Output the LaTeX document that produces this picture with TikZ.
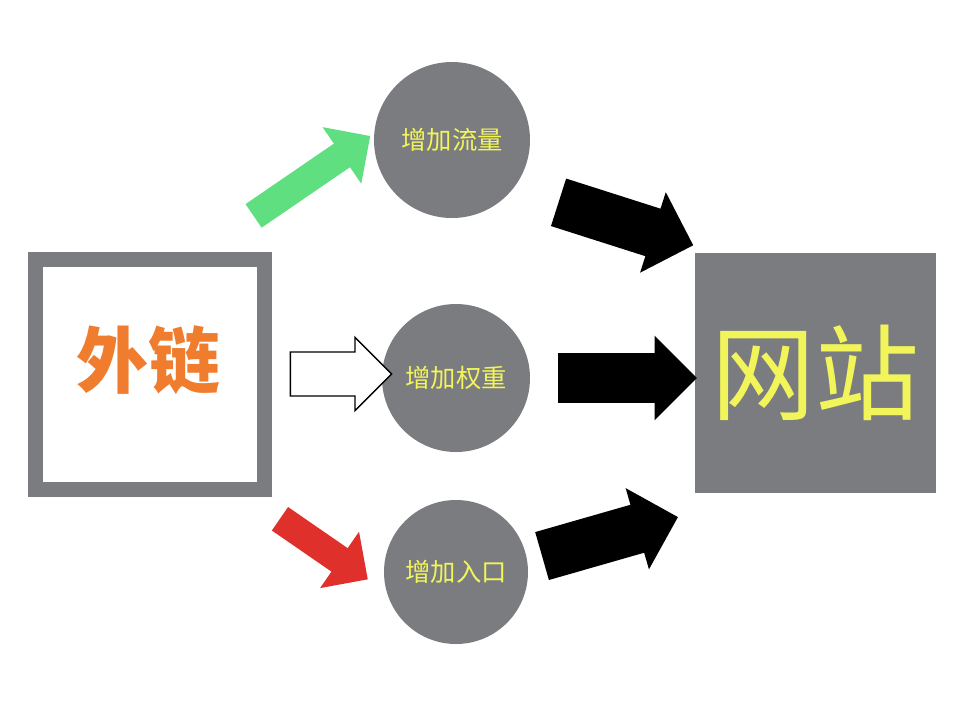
\documentclass[tikz,border=0pt]{standalone}
\usepackage{fontspec}
\newfontfamily\cjk{Noto Sans CJK SC}
\usetikzlibrary{shapes.arrows}
\definecolor{gr}{HTML}{7A7C80}
\definecolor{yl}{HTML}{F2F55A}
\definecolor{og}{HTML}{F07D2E}
\definecolor{gn}{HTML}{5FDF80}
\definecolor{rd}{HTML}{E0302C}
\tikzset{
 circ/.style={circle,fill=gr,minimum size=#1,inner sep=0pt,text=yl,font=\cjk\fontsize{19}{19}\selectfont},
 blk/.style={single arrow,fill=black,inner xsep=0pt,inner ysep=18.5pt,single arrow head extend=13pt},
 thin/.style={single arrow,inner xsep=0pt,inner ysep=10.5pt,single arrow head extend=15pt}
}
\begin{document}
\begin{tikzpicture}[x=0.75pt,y=-0.75pt]
\useasboundingbox (0,0) rectangle (957,704);
\fill[white] (0,0) rectangle (957,704);
\draw[gr,line width=11.5pt] (35.5,259.5) rectangle (264.5,489.5);
\node[font=\cjk\bfseries\fontsize{54}{54}\selectfont,text=og] (wl) at (148,360) {外链};
\node[fill=gr,minimum width=181pt,minimum height=180pt,inner sep=0pt,text=yl,font=\cjk\fontsize{78}{78}\selectfont] (wz) at (815.5,373) {网站};
\node[circ=117pt] (c1) at (452,140) {增加流量};
\node[circ=111pt] (c2) at (456,378) {增加权重};
\node[circ=108pt] (c3) at (456,572) {增加入口};
\node[thin,fill=gn,minimum height=106pt,rotate=34.4] (a1) at (306,180) {};
\node[thin,fill=rd,minimum height=80pt,rotate=-34.6] (a2) at (318,545) {};
\node[single arrow,draw=black,line width=1pt,fill=white,minimum height=76pt,inner xsep=0pt,inner ysep=16pt,single arrow head extend=11pt] (a3) at (330,374) {};
\node[blk,minimum height=106pt,rotate=-17.7] (b1) at (614,220) {};
\node[blk,minimum height=104pt,rotate=0] (b2) at (615,378) {};
\node[blk,minimum height=106pt,rotate=16] (b3) at (598,540) {};
\end{tikzpicture}
\end{document}
